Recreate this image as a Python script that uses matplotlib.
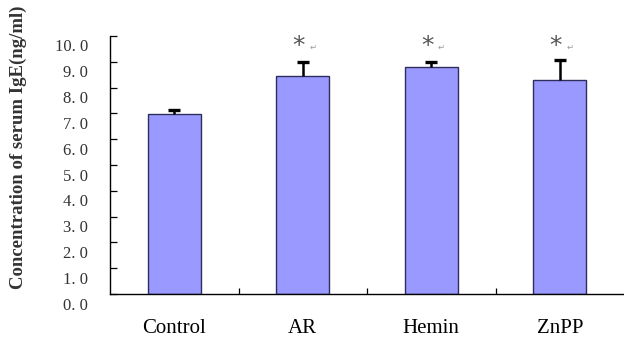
import matplotlib
matplotlib.use("Agg")
import matplotlib.pyplot as plt
import matplotlib.transforms as mtransforms
from matplotlib.ticker import FixedLocator

groups = ["Control", "AR", "Hemin", "ZnPP"]
igE = [6.97, 8.45, 8.78, 8.28]
err = [0.15, 0.53, 0.22, 0.78]
signif = [False, True, True, True]

fig = plt.figure(figsize=(6.24, 3.46), dpi=100)
ax = fig.add_axes([0.1763, 0.150, 0.8237, 0.746])

x = list(range(len(groups)))
ax.bar(x, igE, width=0.41, color="#9999ff", edgecolor="#2e2e5e", linewidth=1.0, zorder=2)

# upper error bars only, with a cap on top
tops = [v + e for v, e in zip(igE, err)]
ax.vlines(x, igE, tops, color="black", linewidth=1.8, zorder=3)
ax.plot(x, tops, linestyle="none", marker="_", markersize=9, markeredgewidth=2.4,
        color="black", zorder=3)

for i, s in enumerate(signif):
    if s:
        ax.text(i - 0.03, 9.62, "*", ha="center", va="center", fontsize=18,
                color="#555555", family="DejaVu Sans")
        ax.text(i + 0.08, 9.55, "\u21b5", ha="center", va="center", fontsize=6,
                color="#999999", family="DejaVu Sans")

ax.set_xlim(-0.5, 3.5)
ax.set_ylim(0, 10)
ax.set_yticks([i * 1.0 for i in range(11)])
ax.set_yticklabels([("%.1f" % v).replace(".", ". ") for v in ax.get_yticks()],
                   family="Liberation Serif", fontsize=12, color="#333333")
ax.tick_params(axis="y", direction="in", length=5, width=0.9, pad=16)

ax.set_xticks(x)
ax.set_xticklabels(groups, family="Liberation Serif", fontsize=15)
ax.tick_params(axis="x", length=0, pad=18)
ax.xaxis.set_minor_locator(FixedLocator([0.5, 1.5, 2.5]))
ax.tick_params(axis="x", which="minor", direction="in", length=4, width=0.9)

# tick labels sit a little below their tick marks
shift = mtransforms.ScaledTranslation(0, -0.095, fig.dpi_scale_trans)
for lab in ax.get_yticklabels():
    lab.set_transform(lab.get_transform() + shift)

for side in ("top", "right"):
    ax.spines[side].set_visible(False)
ax.spines["left"].set_linewidth(1.0)
ax.spines["bottom"].set_linewidth(1.0)

fig.text(0.03, 0.575, "Concentration of serum IgE(ng/ml)", rotation=90,
         ha="center", va="center", family="Liberation Serif", fontsize=13.5,
         fontweight="bold", color="#333333")

fig.savefig("out.png", dpi=100)
